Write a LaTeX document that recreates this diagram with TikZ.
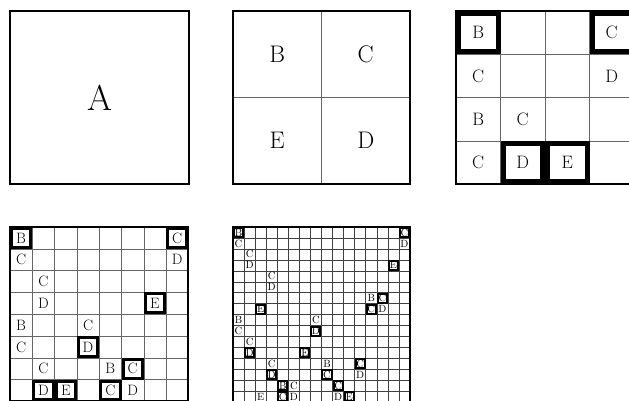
\documentclass[tikz,border=0pt]{standalone}
\usepackage{fontspec}
\usepackage{tikz}
\usetikzlibrary{calc}
\tikzset{
  % Outer frame of a panel
  PF/.style={line width=2pt,draw=black},
  % Thin cell lines
  GL/.style={line width=0.5pt,draw=black!60},
  % Letter sizes, one per level
  tA/.style={inner sep=0pt,font=\fontsize{36}{36}\selectfont},
  tB/.style={inner sep=0pt,font=\fontsize{24}{24}\selectfont},
  tC/.style={inner sep=0pt,font=\fontsize{18}{18}\selectfont},
  tD/.style={inner sep=0pt,font=\fontsize{15}{15}\selectfont},
  tE/.style={inner sep=0pt,font=\fontsize{10.5}{10.5}\selectfont},
  % Thick frame of a marked cell
  mC/.style={line width=5pt},
  mD/.style={line width=3pt},
  mE/.style={line width=2pt}
}

\begin{document}
\begin{tikzpicture}[x=1pt,y=-1pt]
  \useasboundingbox (0,0) rectangle (629,400);
  \clip (0,0) rectangle (629,400);

  % level 0
  \begin{scope}[shift={(10,11)},x=179pt,y=-173pt]
    \node[tA] (p1-1-1) at (0.5,0.5) {A};
    \draw[PF] (0,0) rectangle (1,1);
  \end{scope}

  % level 1
  \begin{scope}[shift={(233,11)},x=88.5pt,y=-86.5pt]
    \draw[GL] (1,0) -- (1,2);
    \draw[GL] (0,1) -- (2,1);
    \foreach \r/\c/\t in {1/1/B,1/2/C,2/1/E,2/2/D}
      \node[tB] (p2-\r-\c) at (\c-0.5,\r-0.5) {\t};
    \draw[PF] (0,0) rectangle (2,2);
  \end{scope}

  % level 2
  \begin{scope}[shift={(456,11)},x=44.5pt,y=-43.25pt]
    \foreach \i in {1,...,3} {
      \draw[GL] (\i,0) -- (\i,4);
      \draw[GL] (0,\i) -- (4,\i);
    }
    \foreach \r/\c/\t/\m in {1/1/B/1,1/4/C/1,2/1/C/0,2/4/D/0,3/1/B/0,3/2/C/0,
                             4/1/C/0,4/2/D/1,4/3/E/1} {
      \ifnum\m=1
        \draw[mC] ($(\c-1,\r-1)+(2.5pt,-2.5pt)$) rectangle ($(\c,\r)+(-2.5pt,2.5pt)$);
      \fi
      \node[tC] (p3-\r-\c) at (\c-0.5,\r-0.5) {\t};
    }
    \draw[PF] (0,0) rectangle (4,4);
  \end{scope}

  % level 3
  \begin{scope}[shift={(10,227)},x=22.3pt,y=-21.8pt]
    \foreach \i in {1,...,7} {
      \draw[GL] (\i,0) -- (\i,8);
      \draw[GL] (0,\i) -- (8,\i);
    }
    \foreach \r/\c/\t/\m in {1/1/B/1,1/8/C/1,2/1/C/0,2/8/D/0,3/2/C/0,4/2/D/0,
                             4/7/E/1,5/1/B/0,5/4/C/0,6/1/C/0,6/4/D/1,7/2/C/0,
                             7/5/B/0,7/6/C/1,8/2/D/1,8/3/E/1,8/5/C/1,8/6/D/0} {
      \ifnum\m=1
        \draw[mD] ($(\c-1,\r-1)+(1.5pt,-1.5pt)$) rectangle ($(\c,\r)+(-1.5pt,1.5pt)$);
      \fi
      \node[tD] (p4-\r-\c) at (\c-0.5,\r-0.5) {\t};
    }
    \draw[PF] (0,0) rectangle (8,8);
  \end{scope}

  % level 4
  \begin{scope}[shift={(233,227)},x=11.06pt,y=-10.95pt]
    \foreach \i in {1,...,15} {
      \draw[GL,draw=black!75] (\i,0) -- (\i,16);
      \draw[GL,draw=black!75] (0,\i) -- (16,\i);
    }
    \foreach \r/\c/\t/\m in {1/1/B/1,1/16/C/1,2/1/C/0,2/16/D/0,3/2/C/0,4/2/D/0,
                             4/15/E/1,5/4/C/0,6/4/D/0,7/13/B/0,7/14/C/1,8/3/E/1,
                             8/13/C/1,8/14/D/0,9/1/B/0,9/8/C/0,10/1/C/0,10/8/D/1,
                             11/2/C/0,12/2/D/1,12/7/E/1,13/4/C/0,13/9/B/0,13/12/C/1,
                             14/4/D/1,14/9/C/1,14/12/D/0,15/5/B/1,15/6/C/0,15/10/C/1,
                             16/3/E/0,16/5/C/1,16/6/D/0,16/10/D/0,16/11/E/1} {
      \ifnum\m=1
        \draw[mE] ($(\c-1,\r-1)+(1pt,-1pt)$) rectangle ($(\c,\r)+(-1pt,1pt)$);
      \fi
      \node[tE] (p5-\r-\c) at (\c-0.5,\r-0.5) {\t};
    }
    \draw[PF] (0,0) rectangle (16,16);
  \end{scope}
\end{tikzpicture}
\end{document}
